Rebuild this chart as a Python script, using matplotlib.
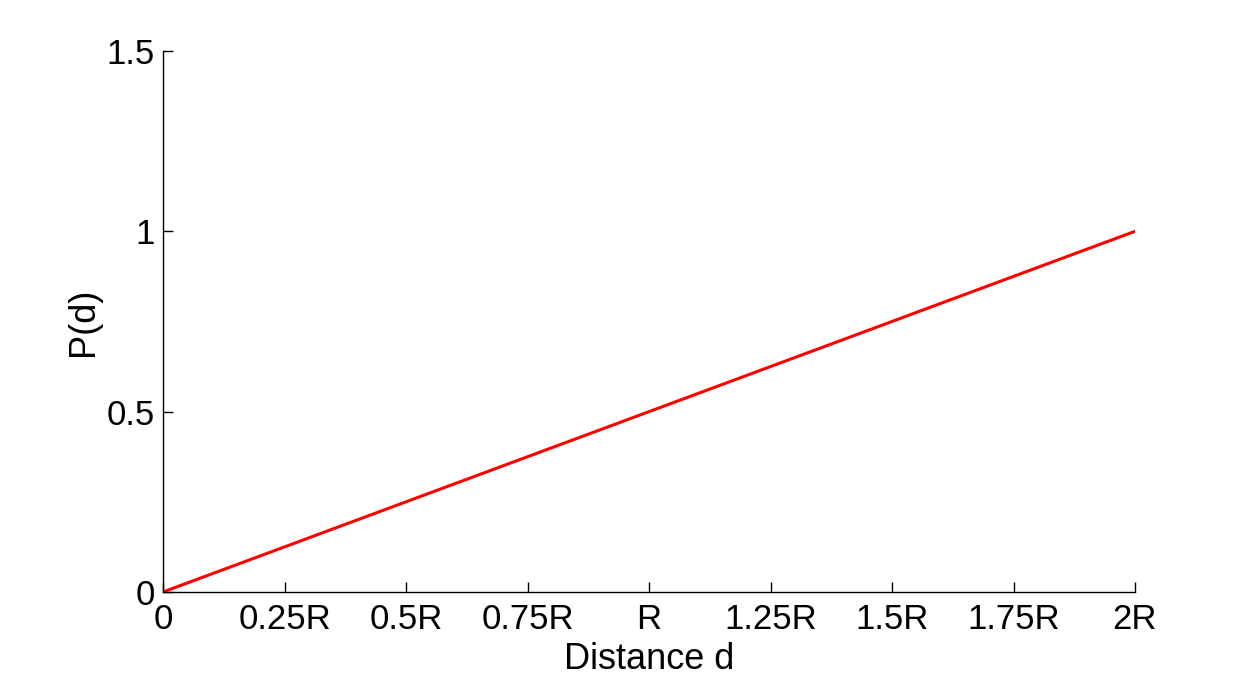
import matplotlib
matplotlib.use("Agg")
import matplotlib.pyplot as plt

distance = [0.0, 0.25, 0.5, 0.75, 1.0, 1.25, 1.5, 1.75, 2.0]
prob = [0.0, 0.125, 0.25, 0.375, 0.5, 0.625, 0.75, 0.875, 1.0]
xtick_vals = [0, 0.25, 0.5, 0.75, 1.0, 1.25, 1.5, 1.75, 2.0]
xtick_labels = ["0", "0.25R", "0.5R", "0.75R", "R", "1.25R", "1.5R", "1.75R", "2R"]
ytick_vals = [0, 0.5, 1, 1.5]
ytick_labels = ["0", "0.5", "1", "1.5"]

plt.rcParams['font.family'] = ['Liberation Sans', 'DejaVu Sans']

fig = plt.figure(figsize=(12.54, 6.82), dpi=100)
ax = fig.add_axes([163/1254, 90/682, (1135-163)/1254, (592-51)/682])
ax.plot(distance, prob, color='red', linewidth=2.2)
ax.set_xlim(0, 2)
ax.set_ylim(0, 1.5)
ax.set_xticks(xtick_vals)
ax.set_xticklabels(xtick_labels)
ax.set_yticks(ytick_vals)
ax.set_yticklabels(ytick_labels)
for s in ['top', 'right']:
    ax.spines[s].set_visible(False)
for s in ['left', 'bottom']:
    ax.spines[s].set_linewidth(1.0)
ax.tick_params(direction='in', length=7, width=1.0, labelsize=25)
ax.tick_params(axis='x', pad=8)
ax.tick_params(axis='y', pad=6)
ax.set_xlabel('Distance d', fontsize=26, labelpad=4)
ax.set_ylabel('P(d)', fontsize=26, labelpad=4)
fig.savefig('out.png', dpi=100, facecolor='white')
